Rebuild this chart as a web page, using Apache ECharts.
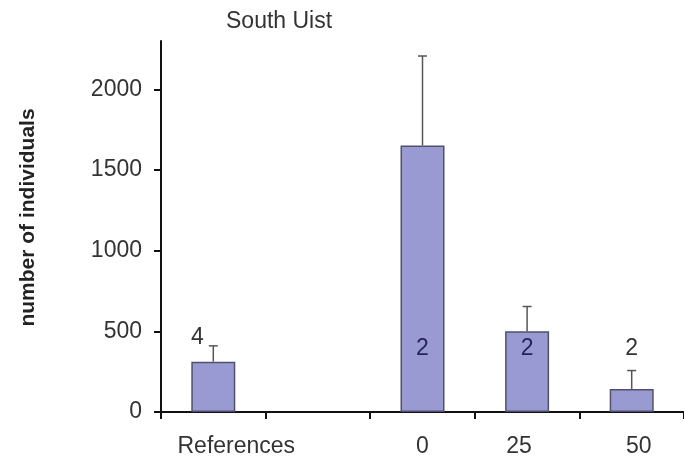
<!DOCTYPE html>
<html>
<head>
<meta charset="utf-8">
<script src="https://cdn.jsdelivr.net/npm/echarts@6/dist/echarts.min.js"></script>
<style>
html,body{margin:0;padding:0;background:#fff;}
#chart{width:684px;height:463px;}
</style>
</head>
<body>
<div id="chart"></div>
<script>
var categories = ['References', '', '0', '25', '50'];
var means = [312, null, 1652, 501, 143];
var errors = [98, null, 555, 153, 114];
var sampleSizes = [4, null, 2, 2, 2];
var yTicks = [0, 500, 1000, 1500, 2000];

var FONT = 'Liberation Sans, Arial, sans-serif';
var chart = echarts.init(document.getElementById('chart'));

var errData = [];
var nData = [];
for (var i = 0; i < categories.length; i++) {
  if (means[i] == null) continue;
  var errTop = means[i] + errors[i];
  errData.push([i, means[i], errTop]);
  var labelVal = errTop < 500 ? Math.max(errTop + 50, 390) : 390;
  nData.push([i, labelVal, means[i], sampleSizes[i]]);
}

function richStyle(pad) {
  return {fontFamily: FONT, fontSize: 23, color: '#333', padding: pad};
}

chart.setOption({
  animation: false,
  title: {
    text: 'South Uist',
    left: 221, top: 5,
    textStyle: {fontFamily: FONT, fontSize: 23, fontWeight: 'normal', color: '#333'}
  },
  grid: {left: 161, right: -7, top: 41, bottom: 51},
  xAxis: {
    type: 'category',
    data: categories,
    boundaryGap: true,
    axisLine: {lineStyle: {color: '#111', width: 2}},
    axisTick: {show: true, inside: false, length: 7, lineStyle: {color: '#111', width: 2}},
    axisLabel: {
      fontFamily: FONT, fontSize: 23, color: '#333', margin: 23, interval: 0,
      formatter: function (v, idx) {
        if (idx === 0 || idx === 3 || idx === 4) return '{r' + idx + '|' + v + '}';
        return v;
      },
      rich: {
        r0: richStyle([0, 0, 0, 46]),
        r3: richStyle([0, 16, 0, 0]),
        r4: richStyle([0, 0, 0, 14])
      }
    }
  },
  yAxis: {
    type: 'value',
    min: 0, max: 2300, interval: 500,
    name: 'number of individuals',
    nameLocation: 'middle',
    nameGap: 122,
    nameTextStyle: {fontFamily: FONT, fontSize: 21, fontWeight: 'bold', color: '#222', padding: [0, 0, 0, 18]},
    axisLine: {show: true, lineStyle: {color: '#111', width: 2}},
    axisTick: {show: true, length: 7, lineStyle: {color: '#111', width: 2}, customValues: yTicks},
    axisLabel: {
      fontFamily: FONT, fontSize: 23, color: '#333', margin: 19, customValues: yTicks,
      formatter: function (v) { return String(v); }
    },
    splitLine: {show: false}
  },
  series: [
    {
      type: 'bar',
      data: means,
      barWidth: 44,
      itemStyle: {color: '#9a9ad2', borderColor: '#50506e', borderWidth: 1.5},
      z: 2
    },
    {
      type: 'custom',
      data: errData,
      z: 3,
      renderItem: function (params, api) {
        var x = api.value(0);
        var base = api.coord([x, api.value(1)]);
        var tp = api.coord([x, api.value(2)]);
        return {
          type: 'group',
          children: [
            {type: 'line', shape: {x1: base[0], y1: base[1], x2: tp[0], y2: tp[1]},
             style: {stroke: '#555', lineWidth: 1.5}},
            {type: 'line', shape: {x1: tp[0] - 4.5, y1: tp[1], x2: tp[0] + 4.5, y2: tp[1]},
             style: {stroke: '#555', lineWidth: 1.5}}
          ]
        };
      }
    },
    {
      type: 'custom',
      data: nData,
      z: 4,
      renderItem: function (params, api) {
        var x = api.value(0);
        var ly = api.value(1);
        var p = api.coord([x, ly]);
        var inside = api.value(2) > ly;
        var dx = inside ? 0 : (x === 0 ? -16 : 0);
        return {
          type: 'text',
          x: p[0] + dx, y: p[1],
          style: {
            text: String(api.value(3)),
            fontFamily: FONT, fontSize: 23,
            fill: inside ? '#24245a' : '#333',
            align: 'center', verticalAlign: 'middle'
          }
        };
      }
    }
  ]
});
</script>
</body>
</html>
